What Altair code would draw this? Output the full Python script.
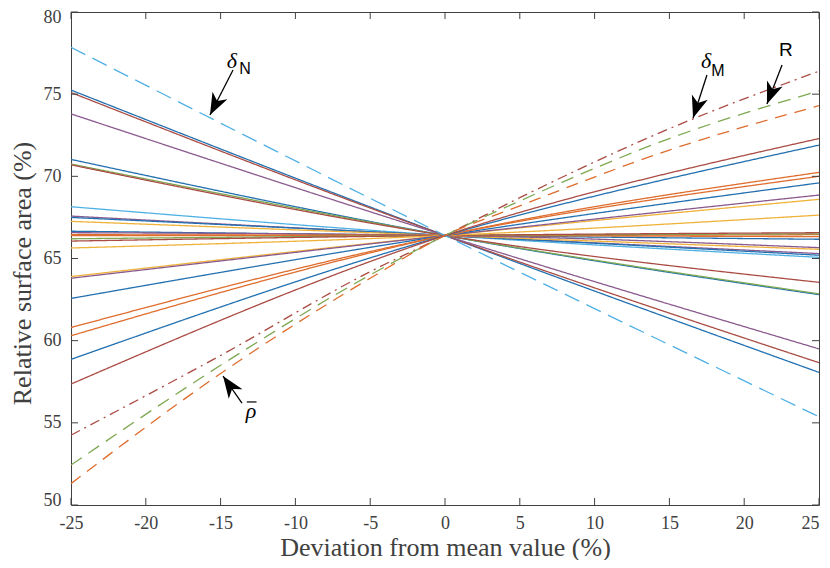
import altair as alt
import pandas as pd

# ---------------- data ----------------
center_x = 0
center_value = 66.4

# straight solid lines: colour, value at -25 %, value at +25 %
solid_colors = ["blue", "red", "purple", "blue", "green", "red", "lightblue", "purple",
                "blue", "yellow", "blue", "purple", "orange", "orange", "green", "red",
                "yellow", "yellow", "purple", "blue", "orange", "orange", "blue", "red"]
solid_left = [75.25, 75.1, 73.8, 71.03, 70.75, 70.7, 68.15, 67.58,
              67.5, 67.26, 66.66, 66.57, 66.45, 66.4, 66.2, 66.06,
              65.64, 63.9, 63.8, 62.57, 60.8, 60.3, 58.86, 57.36]
solid_right = [58.07, 58.66, 59.5, 62.8, 62.85, 63.55, 65.07, 65.3,
               65.2, 65.56, 66.17, 65.66, 66.33, 66.45, 66.5, 66.57,
               67.64, 68.6, 68.86, 69.6, 70.0, 70.24, 71.9, 72.3]

# dashed / dash-dot curves
dn_x = [-25, 0, 25]
dn_vals = [77.85, 66.4, 55.37]
curve_x = [-25, -15, -5, 0, 5, 15, 25]
dm_vals = [54.25, 59.1, 64.2, 66.4, 68.7, 72.9, 76.4]
r_vals = [52.43, 58.5, 64.0, 66.4, 68.5, 72.3, 75.2]
rho_vals = [51.3, 58.0, 63.8, 66.4, 68.2, 71.6, 74.3]

x_ticks = [-25, -20, -15, -10, -5, 0, 5, 10, 15, 20, 25]
y_ticks = [50, 55, 60, 65, 70, 75, 80]

# annotation arrows: tail (x, y) -> tip (x, y), head angle
arrow_names = ["dN", "rho", "dM", "R"]
arrow_tail_x = [-14.17, -13.57, 17.51, 22.53]
arrow_tail_y = [76.47, 56.2, 76.17, 76.77]
arrow_tip_x = [-15.71, -14.84, 16.58, 21.52]
arrow_tip_y = [73.73, 57.85, 73.55, 74.4]
arrow_angle = [207, 325, 198, 201]

# ---------------- build tables ----------------
rows = []
for i, (c, l, r) in enumerate(zip(solid_colors, solid_left, solid_right)):
    for x, y in zip([-25, center_x, 25], [l, center_value, r]):
        rows.append({"id": f"s{i:02d}", "x": x, "y": y, "col": c, "dash": "solid"})
for x, y in zip(dn_x, dn_vals):
    rows.append({"id": "zdN", "x": x, "y": y, "col": "lightblue", "dash": "dash"})
for x, y in zip(curve_x, dm_vals):
    rows.append({"id": "zdM", "x": x, "y": y, "col": "red", "dash": "dashdot"})
for x, y in zip(curve_x, r_vals):
    rows.append({"id": "zR", "x": x, "y": y, "col": "green", "dash": "dash2"})
for x, y in zip(curve_x, rho_vals):
    rows.append({"id": "zrho", "x": x, "y": y, "col": "orange", "dash": "dash3"})
df = pd.DataFrame(rows)

color_dom = ["blue", "orange", "yellow", "purple", "green", "lightblue", "red"]
color_rng = ["#2270B0", "#DE6D2E", "#EFB23A", "#8A5A8E", "#7EA852", "#4FB0E4", "#AA4C44"]
dash_dom = ["solid", "dash", "dashdot", "dash2", "dash3"]
dash_rng = [[1, 0], [16, 8], [10, 5, 2, 5], [13, 8], [12, 8]]

W, H = 748, 493
xs = alt.Scale(domain=[-25, 25], nice=False, zero=False)
ys = alt.Scale(domain=[50, 80], nice=False, zero=False)
minus_fix = "replace(datum.label, '\u2212', '-')"

lines = alt.Chart(df).mark_line(strokeWidth=1.3, interpolate="monotone", clip=True).encode(
    x=alt.X("x:Q", scale=xs, title="Deviation from mean value (%)",
            axis=alt.Axis(values=x_ticks, format="d", labelExpr=minus_fix,
                          labelFlush=False,
                          labelAlign={"condition": {"test": "datum.value >= 25", "value": "right"},
                                      "value": "center"},
                          titleX=W / 2, titleY=42,
                          titleBaseline="middle", titleAlign="center")),
    y=alt.Y("y:Q", scale=ys, title="Relative surface area (%)",
            axis=alt.Axis(values=y_ticks, format="d", labelFlush=True,
                          labelFlushOffset=4, titleX=-49, titleY=261,
                          titleAngle=270, titleBaseline="middle", titleAlign="center")),
    color=alt.Color("col:N", scale=alt.Scale(domain=color_dom, range=color_rng), legend=None),
    strokeDash=alt.StrokeDash("dash:N", scale=alt.Scale(domain=dash_dom, range=dash_rng), legend=None),
    detail="id:N",
    order=alt.Order("x:Q"),
)

# inward ticks on all four sides
xt = pd.DataFrame({"t": x_ticks})
yt = pd.DataFrame({"t": y_ticks})
tick_color = "#404040"
xb = alt.Chart(xt).mark_rule(color=tick_color, strokeWidth=1).encode(
    x=alt.X("t:Q", scale=xs), y=alt.value(H), y2=alt.value(H - 7))
xtop = alt.Chart(xt).mark_rule(color=tick_color, strokeWidth=1).encode(
    x=alt.X("t:Q", scale=xs), y=alt.value(0), y2=alt.value(7))
yl = alt.Chart(yt).mark_rule(color=tick_color, strokeWidth=1).encode(
    y=alt.Y("t:Q", scale=ys), x=alt.value(0), x2=alt.value(7))
yr = alt.Chart(yt).mark_rule(color=tick_color, strokeWidth=1).encode(
    y=alt.Y("t:Q", scale=ys), x=alt.value(W), x2=alt.value(W - 7))

# arrows
arr = pd.DataFrame({"name": arrow_names, "tx": arrow_tail_x, "ty": arrow_tail_y,
                    "hx": arrow_tip_x, "hy": arrow_tip_y, "ang": arrow_angle})
shafts = alt.Chart(arr).mark_rule(color="black", strokeWidth=1.3).encode(
    x=alt.X("tx:Q", scale=xs), y=alt.Y("ty:Q", scale=ys),
    x2="hx:Q", y2="hy:Q")
heads = alt.Chart(arr).mark_point(
    shape="M0,0 L-0.38,1 L0,0.72 L0.38,1 Z", filled=True, color="black",
    size=1936, opacity=1, strokeWidth=0).encode(
    x=alt.X("hx:Q", scale=xs), y=alt.Y("hy:Q", scale=ys),
    angle=alt.Angle("ang:Q", scale=None))

# labels
greek = pd.DataFrame({"x": [-14.24, 17.45, -12.97], "y": [77.02, 77.02, 55.72],
                      "t": ["δ", "δ", "ρ"]})
subs = pd.DataFrame({"x": [-13.37, 18.25], "y": [76.53, 76.41], "t": ["N", "M"]})
rlab = pd.DataFrame({"x": [22.79], "y": [77.69], "t": ["R"]})
bar = pd.DataFrame({"x": [-13.25], "x2": [-12.6], "y": [56.27]})

greek_t = alt.Chart(greek).mark_text(font="Liberation Serif", fontStyle="italic",
                                     fontSize=22, color="black", align="center",
                                     baseline="middle").encode(
    x=alt.X("x:Q", scale=xs), y=alt.Y("y:Q", scale=ys), text="t:N")
subs_t = alt.Chart(subs).mark_text(font="Liberation Sans", fontSize=16, color="black",
                                   align="center", baseline="middle").encode(
    x=alt.X("x:Q", scale=xs), y=alt.Y("y:Q", scale=ys), text="t:N")
r_t = alt.Chart(rlab).mark_text(font="Liberation Sans", fontSize=19, color="black",
                                align="center", baseline="middle").encode(
    x=alt.X("x:Q", scale=xs), y=alt.Y("y:Q", scale=ys), text="t:N")
bar_r = alt.Chart(bar).mark_rule(color="black", strokeWidth=1.2).encode(
    x=alt.X("x:Q", scale=xs), x2="x2:Q", y=alt.Y("y:Q", scale=ys))

chart = alt.layer(lines, xb, xtop, yl, yr, shafts, heads, greek_t, subs_t, r_t, bar_r).properties(
    width=W, height=H,
    autosize=alt.AutoSizeParams(type="none"),
    padding={"left": 63, "top": 4, "right": 3, "bottom": 55},
).configure_view(
    stroke="#404040", strokeWidth=1
).configure_axis(
    grid=False, domain=False, ticks=False, tickSize=0,
    labelFont="Liberation Sans Narrow", labelFontSize=18, labelColor="#404040",
    titleFont="Liberation Serif", titleFontSize=26, titleFontWeight="normal",
    titleColor="#404040",
).configure_axisX(labelPadding=9
).configure_axisY(labelPadding=10)

chart.save("out.html", embed_options={"renderer": "svg", "actions": False})
